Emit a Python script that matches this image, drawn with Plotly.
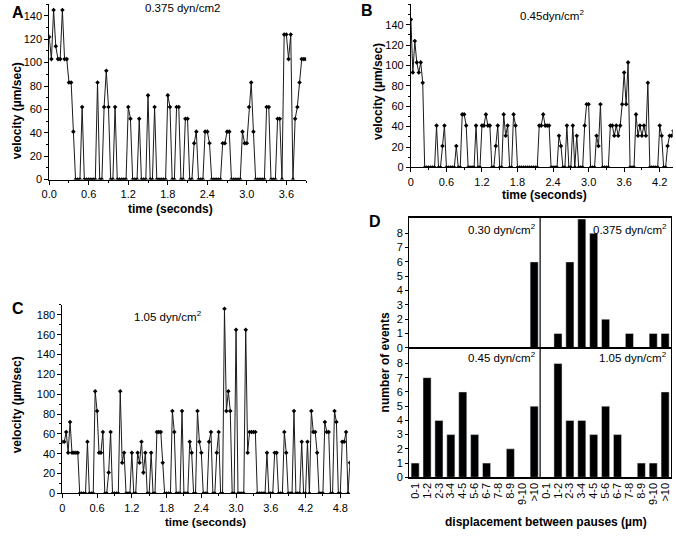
import plotly.graph_objects as go

W, H = 676, 539
FONT = "Liberation Sans"

# ---------------- data ----------------
FRAME_S = 1 / 30  # video frame interval (s)

# Panel A: velocity (µm/sec) per frame, 0.375 dyn/cm2
vel_a = [122, 103, 145, 114, 103, 103, 145, 103, 103, 83, 83, 41, 0, 0, 0, 62, 0, 0, 0, 0,
         0, 0, 83, 0, 0, 62, 93, 62, 0, 0, 62, 0, 0, 0, 0, 0, 62, 52, 0, 0,
         0, 52, 0, 0, 0, 72, 0, 0, 62, 0, 0, 0, 0, 0, 72, 62, 0, 0, 62, 62,
         0, 0, 52, 52, 0, 0, 31, 41, 0, 0, 0, 41, 41, 31, 0, 0, 0, 0, 0, 31,
         31, 41, 41, 0, 0, 0, 0, 0, 41, 31, 31, 62, 83, 41, 0, 0, 0, 0, 0, 62,
         62, 0, 0, 0, 52, 52, 0, 124, 124, 103, 124, 0, 52, 62, 83, 103, 103, 103]

# Panel B: 0.45 dyn/cm2
vel_b = [145, 93, 124, 103, 93, 103, 83, 0, 0, 0, 0, 0, 0, 41, 0, 0, 21, 41, 0, 0,
         0, 0, 0, 21, 0, 0, 52, 52, 41, 0, 0, 0, 0, 41, 0, 0, 41, 41, 52, 41,
         41, 0, 0, 21, 41, 0, 0, 52, 31, 41, 0, 0, 52, 41, 0, 0, 0, 0, 0, 0,
         0, 0, 0, 0, 0, 41, 41, 52, 41, 41, 41, 0, 0, 0, 0, 31, 21, 0, 0, 41,
         0, 0, 41, 0, 31, 0, 0, 0, 41, 62, 62, 0, 0, 0, 31, 21, 62, 0, 0, 0,
         0, 41, 41, 31, 41, 31, 41, 62, 93, 62, 103, 0, 0, 0, 52, 31, 41, 31, 41, 31,
         83, 0, 0, 0, 0, 0, 41, 31, 0, 0, 21, 31, 31, 36]

# Panel C: 1.05 dyn/cm2
vel_c = [52, 52, 62, 41, 72, 41, 41, 41, 41, 0, 0, 0, 0, 52, 0, 0, 0, 103, 83, 41,
         41, 62, 0, 0, 21, 62, 0, 0, 0, 0, 103, 31, 41, 0, 0, 0, 41, 0, 0, 41,
         31, 52, 21, 41, 0, 0, 41, 0, 0, 62, 62, 62, 31, 0, 0, 0, 0, 83, 62, 0,
         0, 0, 83, 0, 0, 0, 52, 41, 0, 0, 83, 52, 41, 0, 0, 0, 52, 62, 0, 0,
         41, 62, 0, 0, 186, 83, 103, 83, 0, 0, 165, 0, 0, 0, 0, 165, 41, 62, 62, 62,
         62, 0, 0, 0, 0, 0, 41, 0, 0, 0, 41, 41, 0, 0, 0, 62, 41, 0, 0, 0,
         83, 0, 0, 0, 52, 0, 0, 52, 0, 83, 62, 62, 41, 0, 0, 0, 72, 62, 62, 0,
         0, 83, 72, 0, 0, 52, 52, 62, 0, 31]

# Panel D: histogram of displacement between pauses
disp_cats = ["0-1", "1-2", "2-3", "3-4", "4-5", "5-6", "6-7", "7-8", "8-9", "9-10", ">10"]
n_030 = [0, 0, 0, 0, 0, 0, 0, 0, 0, 0, 6]
n_0375 = [0, 1, 6, 9, 8, 2, 0, 1, 0, 1, 1]
n_045 = [1, 7, 4, 3, 6, 3, 1, 0, 2, 0, 5]
n_105 = [0, 8, 4, 4, 3, 5, 3, 0, 1, 1, 6]

time_ticks_a = [0.0, 0.6, 1.2, 1.8, 2.4, 3.0, 3.6]
time_text_a = ["0.0", "0.6", "1.2", "1.8", "2.4", "3.0", "3.6"]
time_ticks_b = [0, 0.6, 1.2, 1.8, 2.4, 3.0, 3.6, 4.2]
time_text_b = ["0", "0.6", "1.2", "1.8", "2.4", "3.0", "3.6", "4.2"]
time_ticks_c = [0, 0.6, 1.2, 1.8, 2.4, 3.0, 3.6, 4.2, 4.8]
time_text_c = ["0", "0.6", "1.2", "1.8", "2.4", "3.0", "3.6", "4.2", "4.8"]


def fx(p):
    return p / W


def fy(p):
    return 1 - p / H


fig = go.Figure()

line_style = dict(color="#1a1a1a", width=1)
marker_style = dict(symbol="diamond", size=3.5, color="#000")

for v, ax in ((vel_a, ""), (vel_b, "2"), (vel_c, "3")):
    t = [i * FRAME_S for i in range(len(v))]
    fig.add_trace(go.Scatter(x=t, y=v, mode="lines+markers", line=line_style,
                             marker=marker_style, xaxis="x" + ax, yaxis="y" + ax,
                             showlegend=False, cliponaxis=True, hoverinfo="skip"))

bar_style = dict(color="#000")
left_x = list(range(len(disp_cats)))
right_x = [len(disp_cats) + i for i in range(len(disp_cats))]
fig.add_trace(go.Bar(x=left_x, y=n_030, marker=bar_style, width=0.68, xaxis="x4", yaxis="y4", showlegend=False))
fig.add_trace(go.Bar(x=right_x, y=n_0375, marker=bar_style, width=0.68, xaxis="x4", yaxis="y4", showlegend=False))
fig.add_trace(go.Bar(x=left_x, y=n_045, marker=bar_style, width=0.68, xaxis="x5", yaxis="y5", showlegend=False))
fig.add_trace(go.Bar(x=right_x, y=n_105, marker=bar_style, width=0.68, xaxis="x5", yaxis="y5", showlegend=False))

tickfont = dict(family=FONT, size=11, color="#000")
base_axis = dict(showline=True, linecolor="#000", linewidth=1, ticks="outside", ticklen=4,
                 tickcolor="#000", tickwidth=1, showgrid=False, zeroline=False,
                 tickfont=tickfont, fixedrange=True)


def xax(domain, rng, tv, tt, anchor, minor_dt):
    d = dict(base_axis)
    d.update(domain=[fx(domain[0]), fx(domain[1])], range=rng, tickmode="array",
             tickvals=tv, ticktext=tt, anchor=anchor,
             minor=dict(dtick=minor_dt, tick0=0, ticks="outside", ticklen=2, tickcolor="#000"))
    return d


def yax(domain, rng, tv, anchor, minor_dt):
    d = dict(base_axis)
    d.update(domain=[fy(domain[0]), fy(domain[1])], range=rng, tickmode="array",
             tickvals=tv, ticktext=[str(x) for x in tv], anchor=anchor,
             minor=dict(dtick=minor_dt, tick0=0, ticks="outside", ticklen=2, tickcolor="#000"))
    return d


layout = dict(
    width=W, height=H, margin=dict(l=0, r=0, t=0, b=0),
    paper_bgcolor="white", plot_bgcolor="white", bargap=0,
    font=dict(family=FONT, color="#000"),
)
layout["xaxis"] = xax((41.7, 301.7), [0, 3.9], time_ticks_a, time_text_a, "y", 0.3)
layout["yaxis"] = yax((181.6, 4.2), [0, 150], list(range(0, 141, 20)), "x", 10)
layout["xaxis2"] = xax((407.7, 672.7), [0, 4.42], time_ticks_b, time_text_b, "y2", 0.3)
layout["yaxis2"] = yax((169.3, 4.3), [0, 160], list(range(0, 141, 20)), "x2", 10)
layout["xaxis3"] = xax((55, 346), [0, 4.966], time_ticks_c, time_text_c, "y3", 0.3)
layout["yaxis3"] = yax((499, 308.3), [0, 190], list(range(0, 181, 20)), "x3", 10)

# Panel D axes
dx_top = dict(base_axis)
dx_top.update(domain=[fx(406), fx(671)], range=[-0.5, 21.5], anchor="y4", mirror=True,
              ticks="", showticklabels=False, linewidth=1.2)
dy_top = dict(base_axis)
dy_top.update(domain=[fy(351.7), fy(220)], range=[0, 9.1], anchor="x4", mirror=True,
              tickmode="array", tickvals=list(range(9)), ticklen=3, linewidth=1.2)
dx_bot = dict(base_axis)
dx_bot.update(domain=[fx(406), fx(671)], range=[-0.5, 21.5], anchor="y5", mirror=True,
              ticks="", tickmode="array", tickvals=left_x + right_x,
              ticktext=disp_cats + disp_cats, tickangle=-90, linewidth=1.2)
dy_bot = dict(base_axis)
dy_bot.update(domain=[fy(482.7), fy(351.7)], range=[0, 9.1], anchor="x5", mirror=True,
              tickmode="array", tickvals=list(range(9)), ticklen=3, linewidth=1.2)
layout["xaxis4"] = dx_top
layout["yaxis4"] = dy_top
layout["xaxis5"] = dx_bot
layout["yaxis5"] = dy_bot

fig.update_layout(**layout)

# divider between the two pressures in each histogram row
for xa, ya in (("x4", "y4"), ("x5", "y5")):
    fig.add_shape(type="line", xref=xa, yref=ya + " domain", x0=10.5, x1=10.5, y0=0, y1=1,
                  line=dict(color="#000", width=1.2))

annots = []


def txt(x, y, s, size=11, bold=False, angle=0, xanchor="center", yanchor="middle"):
    annots.append(dict(x=fx(x), y=fy(y), xref="paper", yref="paper", text=s, showarrow=False,
                       textangle=angle, xanchor=xanchor, yanchor=yanchor,
                       font=dict(family=FONT, size=size, color="#000",
                                 weight="bold" if bold else "normal")))


# panel letters
txt(10, 13, "A", 16, True)
txt(363.5, 11, "B", 16, True)
txt(10, 312, "C", 16, True)
txt(371, 224, "D", 16, True)

# condition labels
txt(176.5, 8, "0.375 dyn/cm2", 11.5)
txt(551, 15, "0.45dyn/cm<sup>2</sup>", 11.5)
txt(162, 320, "1.05 dyn/cm<sup>2</sup>", 11.5)
txt(536, 232, "0.30 dyn/cm<sup>2</sup>", 11.5, xanchor="right")
txt(669, 232, "0.375 dyn/cm<sup>2</sup>", 11.5, xanchor="right")
txt(536, 361, "0.45 dyn/cm<sup>2</sup>", 11.5, xanchor="right")
txt(669, 361, "1.05 dyn/cm<sup>2</sup>", 11.5, xanchor="right")

# axis titles
txt(8.5, 112, "velocity (µm/sec)", 12, True, angle=-90)
txt(164.7, 211, "time (seconds)", 12, True)
txt(374.5, 93, "velocity (µm/sec)", 12, True, angle=-90)
txt(543, 197, "time (seconds)", 12, True)
txt(10, 409, "velocity (µm/sec)", 12, True, angle=-90)
txt(199.5, 527.5, "time (seconds)", 11.5, True)
txt(381, 366, "number of events", 12, True, angle=-90)
txt(544, 528, "displacement between pauses (µm)", 12, True)

fig.update_layout(annotations=annots)

post = ("var d=document.getElementById('{plot_id}');"
        "d.style.position='fixed';d.style.top='0px';d.style.left='0px';"
        "document.body.style.margin='0px';document.body.style.overflow='hidden';"
        "document.documentElement.style.overflow='hidden';")
fig.write_html("out.html", config={"displayModeBar": False, "staticPlot": True},
               post_script=post)
